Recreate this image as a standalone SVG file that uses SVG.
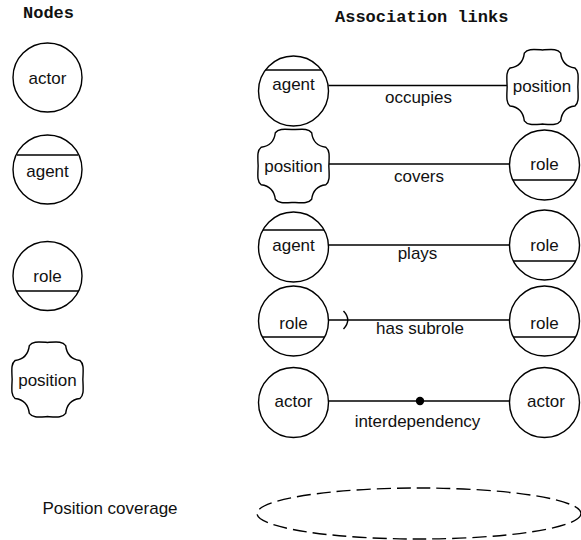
<svg xmlns="http://www.w3.org/2000/svg" xmlns:xlink="http://www.w3.org/1999/xlink" width="581" height="540" viewBox="0 0 581 540">
  <style>
    .shape { fill: #fff; stroke: #000; stroke-width: 1.4; }
    .bar { stroke: #000; stroke-width: 1.4; fill: none; }
    .link { stroke: #000; stroke-width: 1.4; fill: none; }
    .lbl { font-family: "Liberation Sans", Arial, sans-serif; font-size: 17px; fill: #111; text-anchor: middle; }
    .head { font-family: "Liberation Mono", "Courier New", monospace; font-size: 17px; font-weight: bold; fill: #111; }
    .coverage { fill: none; stroke: #000; stroke-width: 1.4; stroke-dasharray: 14 6; }
  </style>
  <defs>
    <!-- four-lobed outline used for position nodes, centred on 0,0 -->
    <path id="posShape" class="shape" d="M0,-35 C10,-35.5 15,-36 18,-32 C19,-24 24,-19 32,-18 C36,-15 35.5,-10 35,0 C35.5,10 36,15 32,18 C24,19 19,24 18,32 C15,36 10,35.5 0,35 C-10,35.5 -15,36 -18,32 C-19,24 -24,19 -32,18 C-36,15 -35.5,10 -35,0 C-35.5,-10 -36,-15 -32,-18 C-24,-19 -19,-24 -18,-32 C-15,-36 -10,-35.5 0,-35 Z"/>
  </defs>

  <rect width="581" height="540" fill="#fff"/>

  <!-- headings -->
  <text class="head" x="23" y="18">Nodes</text>
  <text class="head" x="335" y="22">Association links</text>

  <!-- legend column -->
  <g id="legend-actor">
    <circle class="shape" cx="47.5" cy="77.5" r="34.5"/>
    <text class="lbl" x="47.5" y="83.5">actor</text>
  </g>
  <g id="legend-agent">
    <circle class="shape" cx="47.5" cy="169.5" r="34.5"/>
    <line class="bar" x1="17" y1="155" x2="78" y2="155"/>
    <text class="lbl" x="47.5" y="177">agent</text>
  </g>
  <g id="legend-role">
    <circle class="shape" cx="47.5" cy="276" r="34.5"/>
    <line class="bar" x1="16.5" y1="291" x2="78.5" y2="291"/>
    <text class="lbl" x="47.5" y="282">role</text>
  </g>
  <g id="legend-position">
    <use xlink:href="#posShape" transform="translate(47.5,379.5) scale(1.01,1.06)"/>
    <text class="lbl" x="47.5" y="385.5">position</text>
  </g>

  <!-- connectors -->
  <g id="connectors">
    <line class="link" x1="328.5" y1="85.5" x2="507" y2="85.5"/>
    <line class="link" x1="329" y1="164" x2="509.5" y2="164"/>
    <line class="link" x1="328.5" y1="245" x2="509.5" y2="245"/>
    <line class="link" x1="328.5" y1="320" x2="509.5" y2="320"/>
    <path class="link" d="M343.5,311 Q352,320 343.5,329"/>
    <line class="link" x1="328.5" y1="401" x2="509.5" y2="401"/>
    <circle cx="420" cy="401" r="4.2" fill="#000"/>
  </g>

  <!-- connector labels -->
  <g id="link-labels">
    <text class="lbl" x="418.5" y="103">occupies</text>
    <text class="lbl" x="419" y="182">covers</text>
    <text class="lbl" x="417.5" y="259">plays</text>
    <text class="lbl" x="420" y="334">has subrole</text>
    <text class="lbl" x="417.5" y="427">interdependency</text>
  </g>

  <!-- row 1: agent occupies position -->
  <g id="occ-agent">
    <circle class="shape" cx="293.5" cy="91" r="35"/>
    <line class="bar" x1="265.5" y1="70" x2="321.5" y2="70"/>
    <text class="lbl" x="293.5" y="90">agent</text>
  </g>
  <g id="occ-position">
    <use xlink:href="#posShape" transform="translate(542.5,87) scale(1.01,1.06)"/>
    <text class="lbl" x="542" y="92">position</text>
  </g>

  <!-- row 2: position covers role -->
  <g id="cov-position">
    <use xlink:href="#posShape" transform="translate(293.5,166) scale(1.01,1.04)"/>
    <text class="lbl" x="293.5" y="172">position</text>
  </g>
  <g id="cov-role">
    <circle class="shape" cx="544.5" cy="165" r="35"/>
    <line class="bar" x1="512.9" y1="180" x2="576.1" y2="180"/>
    <text class="lbl" x="544.5" y="170">role</text>
  </g>

  <!-- row 3: agent plays role -->
  <g id="play-agent">
    <circle class="shape" cx="293.5" cy="247" r="35"/>
    <line class="bar" x1="262.9" y1="230" x2="324.1" y2="230"/>
    <text class="lbl" x="293.5" y="251">agent</text>
  </g>
  <g id="play-role">
    <circle class="shape" cx="544.5" cy="245" r="35"/>
    <line class="bar" x1="513.4" y1="261" x2="575.6" y2="261"/>
    <text class="lbl" x="544.5" y="251">role</text>
  </g>

  <!-- row 4: role has subrole role -->
  <g id="sub-role-a">
    <circle class="shape" cx="293.5" cy="321" r="35"/>
    <line class="bar" x1="262.4" y1="337" x2="324.6" y2="337"/>
    <text class="lbl" x="293.5" y="329">role</text>
  </g>
  <g id="sub-role-b">
    <circle class="shape" cx="544.5" cy="321" r="35"/>
    <line class="bar" x1="513.4" y1="337" x2="575.6" y2="337"/>
    <text class="lbl" x="544.5" y="329">role</text>
  </g>

  <!-- row 5: actor interdependency actor -->
  <g id="dep-actor-a">
    <circle class="shape" cx="293.5" cy="402.5" r="35"/>
    <text class="lbl" x="293.5" y="407">actor</text>
  </g>
  <g id="dep-actor-b">
    <circle class="shape" cx="544.5" cy="402.5" r="35"/>
    <text class="lbl" x="546" y="407">actor</text>
  </g>

  <!-- coverage legend -->
  <g id="coverage">
    <text class="lbl" x="110" y="514">Position coverage</text>
    <ellipse class="coverage" cx="419" cy="513.5" rx="162" ry="25.5"/>
  </g>
</svg>
